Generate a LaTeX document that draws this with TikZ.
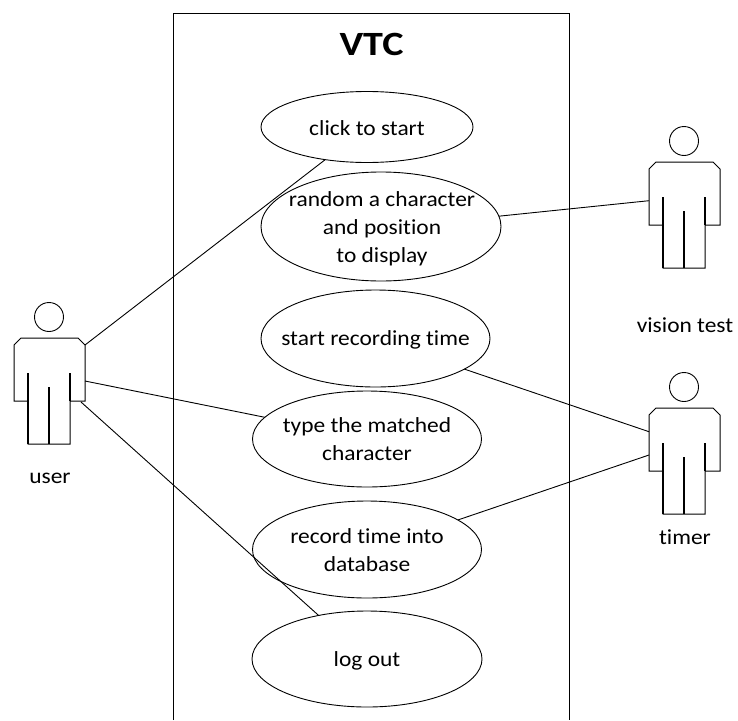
\documentclass[tikz,border=0pt]{standalone}
\usepackage{fontspec}
\setmainfont[Ligatures=NoCommon,FakeStretch=1.09]{Carlito}
\newfontfamily\titlefont[Ligatures=NoCommon,FakeStretch=1.18]{Carlito}
\usetikzlibrary{shapes.geometric}
\begin{document}
\begin{tikzpicture}[x=1pt,y=-1pt,
  usecase/.style={ellipse,draw=black,fill=white,line width=0.9pt,inner sep=0pt,outer sep=0pt,align=center,
    font=\fontsize{21.5}{28}\selectfont},
  usetext/.style={inner sep=0pt,outer sep=0pt,align=center,font=\fontsize{21.5}{28}\selectfont},
  conn/.style={draw=black,line width=0.9pt},
  label/.style={font=\fontsize{21.5}{28}\selectfont,inner sep=0pt,anchor=base},
  actor/.pic={
    \draw[line width=0.9pt] (0,0) circle[radius=14.5pt];
    \draw[line width=1pt,line join=miter] (-35,84) -- (-35,28) -- (-28,21) -- (29,21) -- (36,28) -- (36,84) -- (21,84) -- (21,127) -- (-21,127) -- (-21,84) -- cycle;
    \draw[line width=1.2pt] (-21,56) -- (-21,127) (21,56) -- (21,84) (0,70) -- (0,127);
    \coordinate (-top) at (36,28);
    \coordinate (-mid) at (36,64);
    \coordinate (-low) at (32,85);
    \coordinate (-left1) at (-35,59.7);
    \coordinate (-left2) at (-35,44.7);
    \coordinate (-left3) at (-35,68);
  }]
\useasboundingbox (0,0) rectangle (738,720);
\fill[white] (0,0) rectangle (738,720);
\draw[line width=0.9pt] (173,720) -- (173,13) -- (569,13) -- (569,720);
\node[font=\fontsize{34}{40}\selectfont\titlefont\bfseries,inner sep=0pt] (title) at (371.5,44) {VTC};

\pic (user) at (49,317) {actor};
\pic (vision) at (684,141) {actor};
\pic (timer) at (684,387) {actor};
\node[label] (userlab) at (50,483) {user};
\node[label] (visionlab) at (685,332) {vision test};
\node[label] (timerlab) at (685,544) {timer};

\node[usecase,minimum width=212pt,minimum height=71pt] (click) at (367,127) {};
\node[usecase,minimum width=240pt,minimum height=109pt] (random) at (381,226.5) {};
\node[usecase,minimum width=229pt,minimum height=97pt] (start) at (375.5,338.5) {};
\node[usecase,minimum width=229pt,minimum height=96pt] (type) at (367,439) {};
\node[usecase,minimum width=229pt,minimum height=97pt] (record) at (367,549.5) {};
\node[usecase,minimum width=230pt,minimum height=96pt] (logout) at (367,659) {};

\draw[conn] (user-top) -- (click.218);
\draw[conn] (user-mid) -- (type.168.6);
\draw[conn] (user-low) -- (logout.138);
\draw[conn] (random.5.5) -- (vision-left1);
\draw[conn] (start.341.2) -- (timer-left2);
\draw[conn] (record.18.5) -- (timer-left3);

\node[usetext] (t1) at (367,128) {click to start};
\node[usetext] (t2) at (382,229) {random a character\\and position\\to display};
\node[usetext] (t3) at (375.5,340) {start recording time};
\node[usetext] (t4) at (367,439) {type the matched\\character};
\node[usetext] (t5) at (367,550) {record time into\\database};
\node[usetext] (t6) at (367,661) {log out};
\end{tikzpicture}
\end{document}
